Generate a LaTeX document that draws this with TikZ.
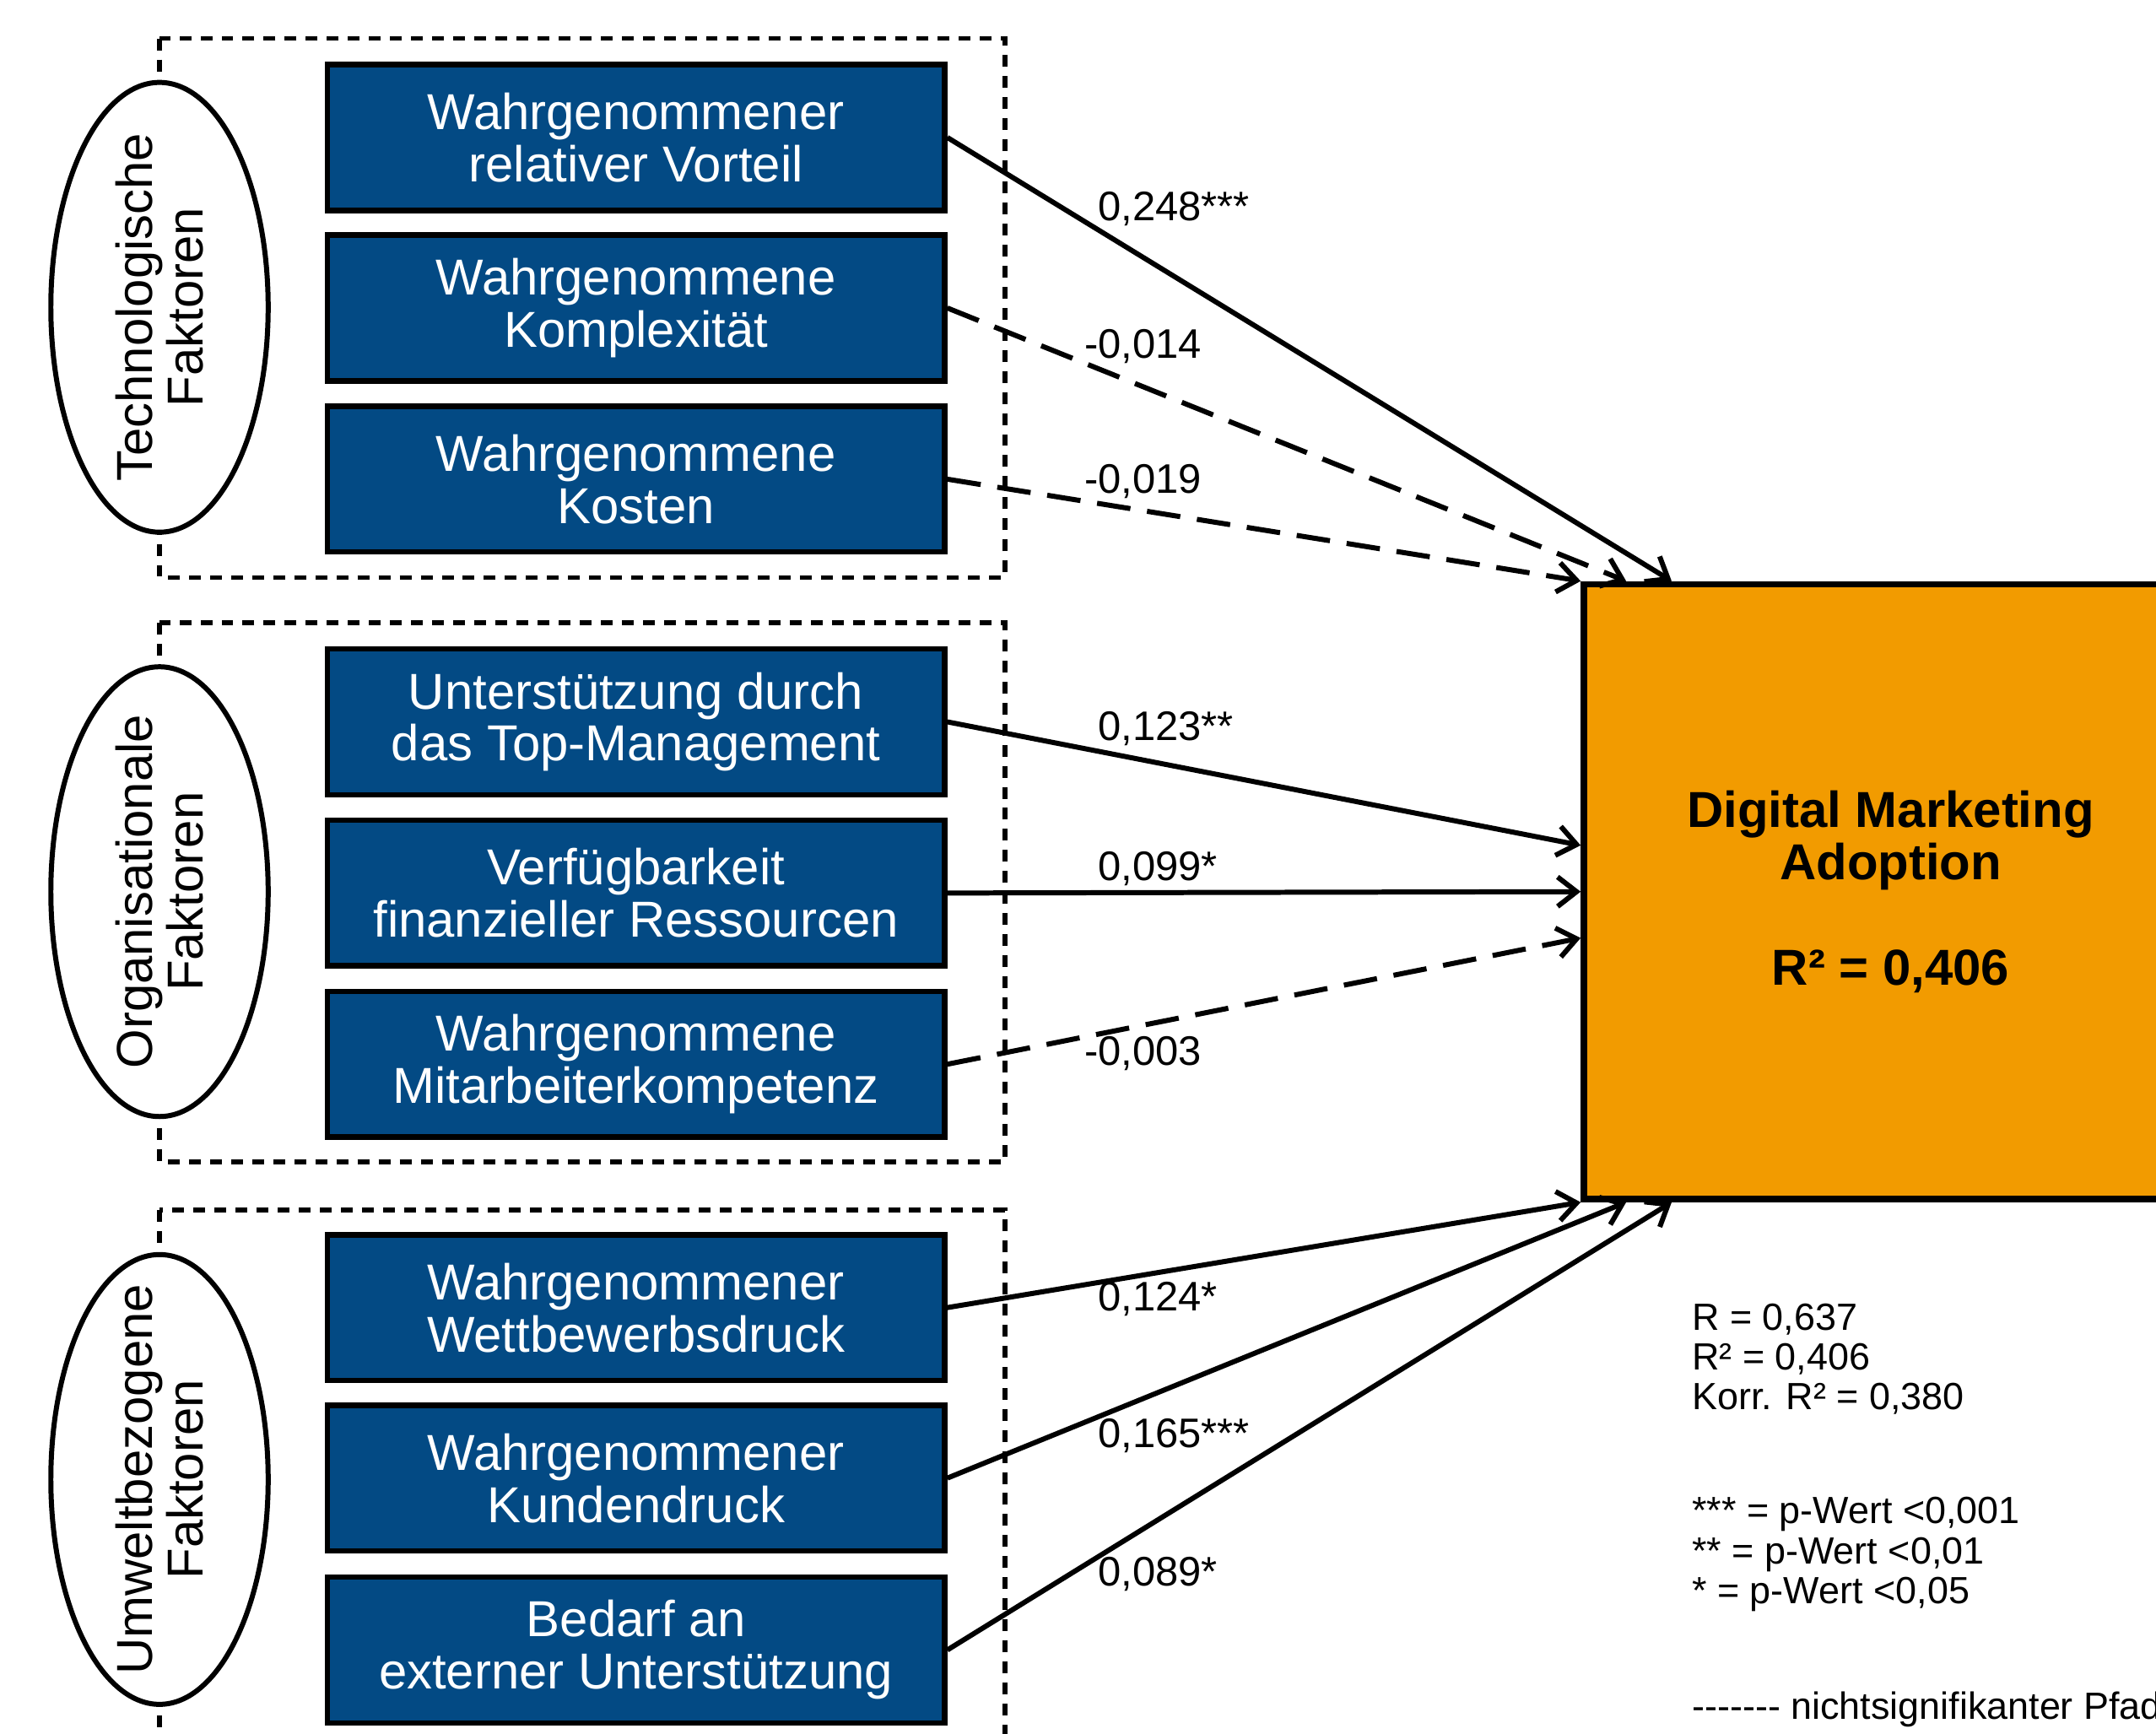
\documentclass[tikz,border=0pt]{standalone}
\usepackage{fontspec}
\setmainfont{Liberation Sans}[Ligatures=TeXOff]
\usetikzlibrary{shapes.geometric,arrows.meta}
\definecolor{facblue}{RGB}{3,74,132}
\definecolor{dmaorange}{RGB}{242,155,0}

\begin{document}
\begin{tikzpicture}[x=0.01148cm,y=-0.01148cm,inner sep=1mm]
    \tikzstyle{group}=[dash pattern=on 2.8pt off 2.2pt,line width=1.1pt]
    \tikzstyle{dim}=[ellipse,draw,fill=white,line width=1.2pt,inner sep=0pt,
        minimum width=51.6pt,minimum height=106.8pt]
    \tikzstyle{dimtext}=[rotate=90,inner sep=0pt,align=center,font=\fontsize{12}{12.1}\selectfont]
    \tikzstyle{factor}=[rectangle,draw=black,fill=facblue,line width=1.3pt,text=white,
        minimum width=146.6pt,minimum height=34.6pt,align=center,font=\fontsize{12}{12.4}\selectfont]
    \tikzstyle{target}=[rectangle,draw=black,fill=dmaorange,line width=1.5pt,
        minimum width=145.7pt,minimum height=146pt,align=center,font=\fontsize{12}{12.5}\selectfont\bfseries]
    \tikzstyle{sig}=[line width=1.2pt,-{Straight Barb[length=4.5pt,width=7pt]}]
    \tikzstyle{nsig}=[sig,dash pattern=on 8pt off 4pt]
    \tikzstyle{coef}=[anchor=west,inner sep=0pt,font=\fontsize{9.8}{11}\selectfont]
    \tikzstyle{legend}=[anchor=west,inner sep=0pt,align=left,font=\fontsize{9}{9.5}\selectfont]

    \clip (0,0) rectangle (1568,1261);

    % groups
    \draw[group] (116,28) rectangle (731,420);
    \draw[group] (116,453) rectangle (731,845);
    \draw[group] (116,880) rectangle (731,1300);
    \node[dim] (tech) at (116,223.5) {};
    \node[dimtext] (techlbl) at (tech) {Technologische\\Faktoren};
    \node[dim] (org) at (116,648.5) {};
    \node[dimtext] (orglbl) at (org) {Organisationale\\Faktoren};
    \node[dim] (env) at (116,1076) {};
    \node[dimtext] (envlbl) at (env) {Umweltbezogene\\Faktoren};

    % factors
    \foreach \i/\y/\txt in {1/100/{Wahrgenommener\\relativer Vorteil},
        2/224/{Wahrgenommene\\Komplexität},
        3/348.5/{Wahrgenommene\\Kosten},
        4/525/{Unterstützung durch\\das Top-Management},
        5/649.5/{Verfügbarkeit\\finanzieller Ressourcen},
        6/774/{Wahrgenommene\\Mitarbeiterkompetenz},
        7/951/{Wahrgenommener\\Wettbewerbsdruck},
        8/1075/{Wahrgenommener\\Kundendruck},
        9/1200/{Bedarf an\\externer Unterstützung}} {
        \node[factor] (b\i) at (462.5,\y) {\txt};
    };

    \node[target] (dma) at (1375,648.5) {Digital Marketing\\Adoption\\[12.5pt]R² = 0,406};

    \draw[sig] (b1.east) -- ([xshift=21.6pt]dma.north west);
    \draw[nsig] (b2.east) -- ([xshift=10.8pt]dma.north west);
    \draw[nsig] (b3.east) -- (dma.north west);
    \draw[sig] (b4.east) -- ([yshift=11pt]dma.west);
    \draw[sig] (b5.east) -- (dma.west);
    \draw[nsig] (b6.east) -- ([yshift=-11pt]dma.west);
    \draw[sig] (b7.east) -- (dma.south west);
    \draw[sig] (b8.east) -- ([xshift=10.8pt]dma.south west);
    \draw[sig] (b9.east) -- ([xshift=21.6pt]dma.south west);

    % path coefficients
    \foreach \i/\x/\y/\val in {1/798/152/{0,248***},2/788/252/{-0,014},3/788/350/{-0,019},
        4/798/530/{0,123**},5/798/632/{0,099*},6/788/766/{-0,003},
        7/798/945/{0,124*},8/798/1044/{0,165***},9/798/1145/{0,089*}} {
        \node[coef] (l\i) at (\x,\y) {\val};
    };

    \node[legend] (fitval) at (1230,988.5) {R = 0,637\\R² = 0,406\\Korr. R² = 0,380};
    \node[legend] (pval) at (1230,1130.5) {*** = p-Wert <0,001\\** = p-Wert <0,01\\* = p-Wert <0,05};
    \node[legend] (nsleg) at (1230,1243) {------- nichtsignifikanter Pfad};
\end{tikzpicture}
\end{document}
